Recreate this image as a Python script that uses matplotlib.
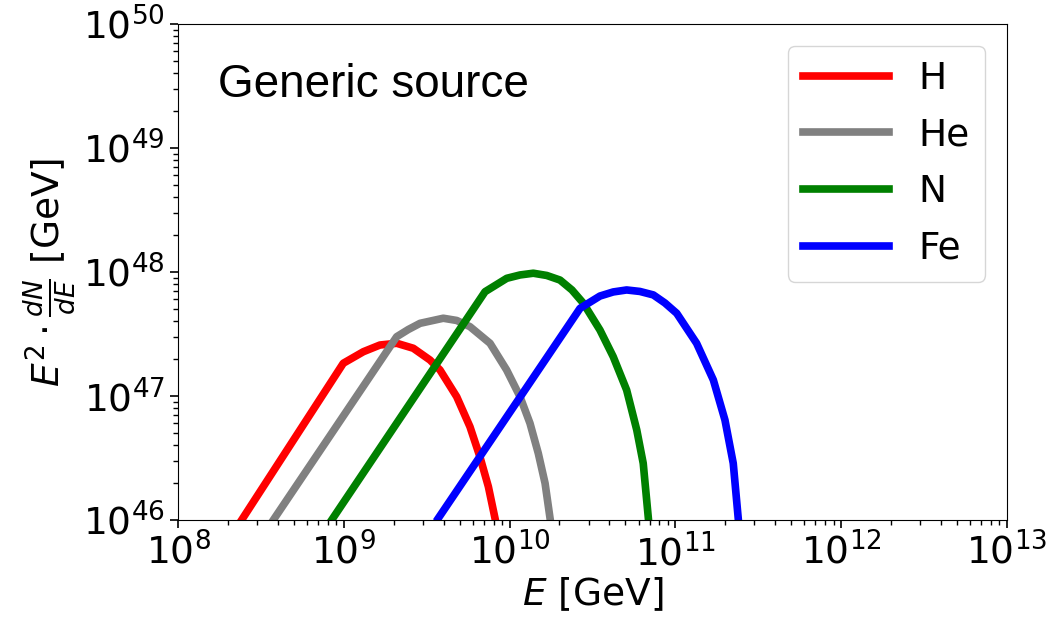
import matplotlib
matplotlib.use('Agg')
import matplotlib.pyplot as plt

# values as (log10 E [GeV], log10 E^2 dN/dE [GeV])
h_logE = [8.384, 8.997, 9.118, 9.218, 9.319, 9.419, 9.520, 9.580, 9.681, 9.761, 9.821, 9.872, 9.912]
h_logY = [46.0, 47.264, 47.357, 47.411, 47.425, 47.385, 47.290, 47.210, 46.994, 46.752, 46.510, 46.269, 46.014]

he_logE = [8.575, 9.319, 9.389, 9.460, 9.600, 9.681, 9.761, 9.882, 9.982, 10.063, 10.123, 10.173, 10.214, 10.244]
he_logY = [46.0, 47.478, 47.536, 47.586, 47.627, 47.609, 47.559, 47.425, 47.210, 46.994, 46.780, 46.538, 46.296, 46.014]

n_logE = [8.927, 9.852, 9.983, 10.063, 10.143, 10.224, 10.304, 10.376, 10.445, 10.545, 10.625, 10.706, 10.767, 10.806, 10.837]
n_logY = [46.0, 47.841, 47.949, 47.976, 47.990, 47.972, 47.935, 47.855, 47.748, 47.532, 47.317, 47.048, 46.726, 46.457, 46.014]

fe_logE = [9.570, 10.425, 10.545, 10.625, 10.706, 10.786, 10.867, 10.937, 11.008, 11.128, 11.229, 11.299, 11.349, 11.379]
fe_logY = [46.014, 47.707, 47.806, 47.839, 47.855, 47.843, 47.815, 47.75, 47.667, 47.425, 47.129, 46.806, 46.457, 46.014]

labels = ['H', 'He', 'N', 'Fe']
colors = ['red', 'grey', 'green', 'blue']
series = [(h_logE, h_logY), (he_logE, he_logY), (n_logE, n_logY), (fe_logE, fe_logY)]

fig = plt.figure(figsize=(10.52, 6.18), dpi=100)
ax = fig.add_axes([0.1692, 0.1586, 0.788, 0.8026])

for (lx, ly), c, lab in zip(series, colors, labels):
    ax.plot([10 ** v for v in lx], [10 ** v for v in ly], color=c, lw=5.5,
            label=lab, solid_joinstyle='round')

ax.set_xscale('log')
ax.set_yscale('log')
ax.set_xlim(1e8, 1e13)
ax.set_ylim(1e46, 1e50)
ax.tick_params(labelsize=27, which='major', length=6, width=1.2)
ax.tick_params(which='minor', length=3.5, width=1)

ax.set_xlabel(r'$E$ [GeV]', fontsize=27, labelpad=2)
ax.set_ylabel(r'$E^2 \cdot \frac{dN}{dE}$ [GeV]', fontsize=27, labelpad=4)

ax.text(0.0483, 0.853, 'Generic source', transform=ax.transAxes,
        fontsize=33, family='Liberation Sans', va='baseline')

ax.legend(loc='upper right', bbox_to_anchor=(0.9735, 0.956), borderaxespad=0,
          fontsize=27, handlelength=2.3, handletextpad=0.8, labelspacing=0.55)

fig.savefig('out.png', dpi=100)
